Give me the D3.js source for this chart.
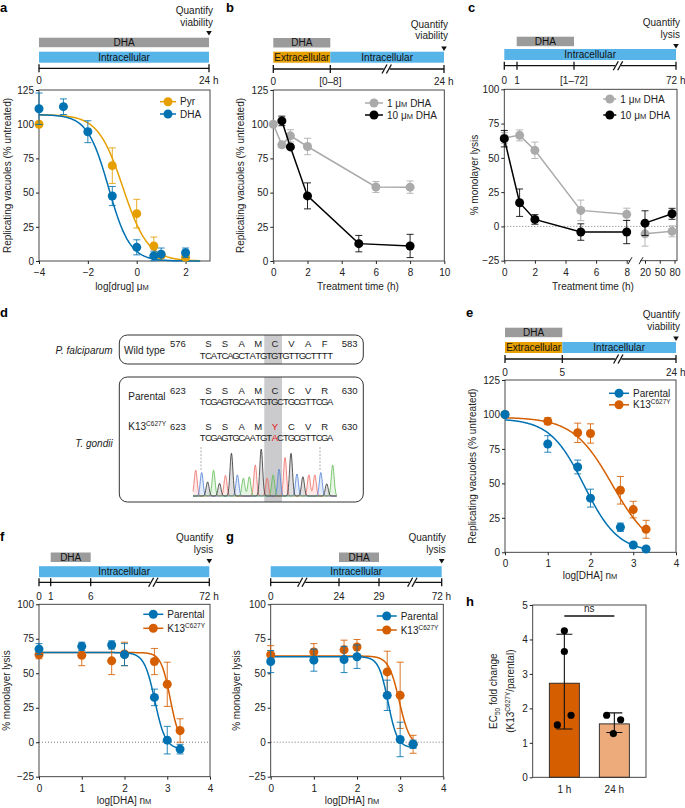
<!DOCTYPE html>
<html>
<head>
<meta charset="utf-8">
<script src="https://cdn.jsdelivr.net/npm/d3@7"></script>
<style>
  body { margin: 0; background: #fff; }
  svg { display: block; }
</style>
</head>
<body>
<svg id="fig" width="685" height="808"></svg>
<script>
// ---------------- data ----------------
// a: dose response, log[drug] uM
const aDoseDHA = [-4, -3, -2, -1, 0, 0.7, 1, 2];
const aDHA     = [111.3, 112.8, 94.5, 47.5, 10, 3.7, 5, 6];
const aDHAerr  = [11.5, 5.7, 8, 7, 5.5, 3.5, 4.5, 3.5];
const aDosePyr = [-4, -1, 0, 0.7, 1, 2];
const aPyr     = [100, 69.7, 34.6, 11, 4.2, 2.7];
const aPyrErr  = [0, 13, 10.5, 6.5, 2, 2];
const aFitDHA  = {top: 107, bottom: 0, ec50: -1.15, hill: 1.0};
const aFitPyr  = {top: 107, bottom: 0, ec50: -0.56, hill: 0.85};

// b: treatment time (h)
const bTime1   = [0, 0.5, 1, 2, 6, 8];
const b1uM     = [100, 84.9, 91.5, 83.7, 54.1, 54];
const b1err    = [0, 2, 4.5, 6, 4, 4.5];
const bTime10  = [0.5, 1, 2, 5, 8];
const b10uM    = [102.4, 83.4, 47.6, 12.7, 11];
const b10err   = [3.5, 1, 9.5, 6, 8.5];

// c: treatment time (h), % lysis
const cTimeA   = [0, 1, 2, 5, 8];
const cTimeB   = [20, 75];
const c1uMA    = [64.6, 66.4, 55.5, 11.7, 8.8];
const c1errA   = [4, 4, 6, 7.5, 4.5];
const c1uMB    = [-5.4, -3.6];
const c1errB   = [9, 4];
const c10uMA   = [64, 17.3, 5.1, -4.1, -4.1];
const c10errA  = [6, 10, 3.5, 6, 8.5];
const c10uMB   = [2.4, 9.2];
const c10errB  = [9, 4];

// d: sequences
const pfAA   = ["S", "S", "A", "M", "C", "V", "A", "F"];
const pfDNA  = "TCATCAGCTATGTGTGTTGCTTTT";
const tgAA   = ["S", "S", "A", "M", "C", "C", "V", "R"];
const tgDNA  = "TCGAGTGCAATGTGCTGCGTTCGA";
const mutAA  = ["S", "S", "A", "M", "Y", "C", "V", "R"];
const mutDNA = "TCGAGTGCAATGTACTGCGTTCGA";
const chromaBases   = "TCGAGTGCAATGTACTGCGTTCGA";
const chromaHeights = [55, 50, 30, 55, 27, 44, 91, 45, 38, 41, 66, 100, 38, 45, 57, 82, 91, 47, 41, 45, 45, 50, 26, 66];

// e: log[DHA] nM
const eDose      = [0, 1, 1.7, 2, 2.7, 3, 3.3];
const eParental  = [100, 78.6, 61.9, 39.3, 18.2, 5.3, 2.4];
const eParErr    = [0, 6, 5, 6.5, 3, 1.5, 1.5];
const eK13       = [100, 95.1, 86.7, 86.2, 45, 31, 16.7];
const eK13Err    = [0, 2.5, 7, 7, 10, 6, 6.5];
const eFitPar    = {top: 97, bottom: 0, ec50: 1.85, hill: 1.09};
const eFitK13    = {top: 98, bottom: 0, ec50: 2.51, hill: 0.95};

// f: 1 h pulse, % lysis
const fDose      = [0, 1, 1.7, 2, 2.7, 3, 3.3];
const fParental  = [67.5, 69.5, 70.5, 63.5, 32.5, 1.5, -5];
const fParErr    = [4, 3, 3, 8, 6, 10, 3.5];
const fK13       = [63.5, 63, 59, 64, 58.5, 42, 8.5];
const fK13Err    = [3, 7.5, 10, 8.5, 9.5, 16, 8.5];
const fFitPar    = {top: 65, bottom: -5, ec50: 2.71, hill: 3.5};
const fFitK13    = {top: 65, bottom: -2, ec50: 3.07, hill: 4};

// g: 24 h post infection pulse
const gDose      = [0, 1, 1.7, 2, 2.7, 3, 3.3];
const gParental  = [58.5, 59.5, 60, 62, 34, 2, -1.5];
const gParErr    = [8, 8, 9.5, 8.5, 11, 12.5, 3];
const gK13       = [63.5, 65.5, 67, 69, 51, 34, -1.5];
const gK13Err    = [6.5, 6, 7, 5.5, 15, 24, 6.5];
const gFitPar    = {top: 62, bottom: -4, ec50: 2.72, hill: 4};
const gFitK13    = {top: 62.5, bottom: -3, ec50: 2.98, hill: 3.5};

// h: EC50 fold change
const hGroups = ["1 h", "24 h"];
const hMeans  = [2.73, 1.55];
const hLow    = [1.4, 1.3];
const hHigh   = [4.15, 1.87];
const hPoints = [[4.25, 3.65, 1.8, 1.52], [1.8, 1.67, 1.27]];

// ---------------- styling ----------------
const FONT = '"Liberation Sans", Arial, Helvetica, sans-serif';
const C = {
  blue: "#0072B2", gold: "#E69F00", red: "#D55E00", sky: "#56B4E9",
  bar: "#9B9B9B", lgray: "#AAAAAA", black: "#000", peach: "#EDAB7C", ink: "#222"
};
const intFmt = d3.format("d");

const svg = d3.select("#fig").attr("font-family", FONT).attr("font-size", 10).attr("fill", C.ink);

function hill(p) {
  return x => p.bottom + (p.top - p.bottom) / (1 + Math.pow(10, (x - p.ec50) * p.hill));
}

// text with sup/sub/small-cap pieces
function rich(sel, parts) {
  let shift = 0;
  parts.forEach(p => {
    const t = sel.append("tspan").text(p.t);
    let want = 0;
    if (p.sup) { t.attr("font-size", 6.5); want = -4; }
    if (p.sub) { t.attr("font-size", 6.5); want = 2.5; }
    if (p.sc) t.attr("font-size", 7.5);
    if (want !== shift) { t.attr("dy", want - shift); shift = want; }
  });
  return sel;
}
const uM = [{t: "μ"}, {t: "M", sc: true}];
const nM = [{t: "n"}, {t: "M", sc: true}];
const k13 = [{t: "K13"}, {t: "C627Y", sup: true}];

function panelLabel(x, y, s) {
  svg.append("text").attr("x", x).attr("y", y).attr("font-size", 13)
    .attr("font-weight", "bold").attr("fill", "#000").text(s);
}

function styleAxis(s) {
  s.attr("font-family", null).attr("font-size", null);
  s.select(".domain").remove();
  s.selectAll("line").attr("stroke", "#222");
  s.selectAll("text").attr("fill", C.ink);
}

function plot(o) {
  const g = svg.append("g");
  const x = d3.scaleLinear().domain(o.xd).range([o.x0, o.x1]);
  const y = d3.scaleLinear().domain(o.yd).range([o.y1, o.y0]);
  if (o.zero) {
    g.append("line").attr("x1", o.x0).attr("x2", o.x1).attr("y1", y(0)).attr("y2", y(0))
      .attr("stroke", "#555").attr("stroke-width", 0.8).attr("stroke-dasharray", "1,2");
  }
  g.append("rect").attr("x", o.x0).attr("y", o.y0).attr("width", o.x1 - o.x0)
    .attr("height", o.y1 - o.y0).attr("fill", "none").attr("stroke", "#333").attr("stroke-width", 0.9);
  g.append("g").attr("transform", `translate(${o.x0},0)`)
    .call(d3.axisLeft(y).tickValues(o.yt).tickFormat(intFmt).tickSize(3).tickPadding(2)).call(styleAxis);
  if (o.xt) {
    g.append("g").attr("transform", `translate(0,${o.y1})`)
      .call(d3.axisBottom(x).tickValues(o.xt).tickFormat(intFmt).tickSize(3).tickPadding(5)).call(styleAxis);
  }
  const yl = g.append("text").attr("transform", `translate(${o.ylx},${(o.y0 + o.y1) / 2}) rotate(-90)`)
    .attr("text-anchor", "middle");
  rich(yl, o.ylabel);
  if (o.xlabel) {
    const xl = g.append("text").attr("x", o.xlx).attr("y", o.xly).attr("text-anchor", "middle");
    rich(xl, o.xlabel);
  }
  return {g, x, y};
}

function drawSeries(p, xs, ys, errs, color, connect, xScale) {
  const xs_ = xScale || p.x;
  const g = p.g.append("g");
  if (connect) {
    g.append("path").datum(xs.map((d, i) => [d, ys[i]]))
      .attr("d", d3.line().x(d => xs_(d[0])).y(d => p.y(d[1])))
      .attr("fill", "none").attr("stroke", color).attr("stroke-width", 1.5);
  }
  xs.forEach((d, i) => {
    if (!errs[i]) return;
    const cx = xs_(d), ya = p.y(ys[i] - errs[i]), yb = p.y(ys[i] + errs[i]);
    g.append("path")
      .attr("d", `M${cx},${ya}V${yb}M${cx - 3.5},${ya}H${cx + 3.5}M${cx - 3.5},${yb}H${cx + 3.5}`)
      .attr("stroke", color).attr("stroke-width", 1).attr("fill", "none").attr("opacity", 0.85);
  });
  g.selectAll("circle").data(xs).join("circle")
    .attr("cx", d => xs_(d)).attr("cy", (d, i) => p.y(ys[i])).attr("r", 4.5).attr("fill", color);
}

function drawFit(p, f, x0, x1, color) {
  const xs = d3.range(0, 201).map(i => x0 + (x1 - x0) * i / 200);
  p.g.append("path").datum(xs)
    .attr("d", d3.line().x(d => p.x(d)).y(d => p.y(hill(f)(d))))
    .attr("fill", "none").attr("stroke", color).attr("stroke-width", 1.5);
}

function legend(g, x, ys, items, len) {
  items.forEach((it, i) => {
    const y = ys[i];
    g.append("line").attr("x1", x).attr("x2", x + len).attr("y1", y).attr("y2", y)
      .attr("stroke", it.color).attr("stroke-width", 1.5);
    g.append("circle").attr("cx", x + len / 2).attr("cy", y).attr("r", 4.5).attr("fill", it.color);
    const t = g.append("text").attr("x", x + len + 4).attr("y", y).attr("dy", "0.35em");
    rich(t, it.label);
  });
}

function timeline(t) {
  const g = svg.append("g");
  t.bars.forEach(b => {
    g.append("rect").attr("x", b.x0).attr("y", b.y).attr("width", b.x1 - b.x0)
      .attr("height", b.h).attr("fill", b.fill);
    g.append("text").attr("x", (b.x0 + b.x1) / 2).attr("y", b.y + b.h / 2).attr("dy", "0.36em")
      .attr("text-anchor", "middle").attr("fill", "#111").text(b.text);
  });
  const x0 = d3.min(t.ticks), x1 = d3.max(t.ticks);
  g.append("line").attr("x1", x0).attr("x2", x1).attr("y1", t.lineY).attr("y2", t.lineY)
    .attr("stroke", "#111").attr("stroke-width", 1.3);
  t.ticks.forEach((tx, i) => {
    g.append("line").attr("x1", tx).attr("x2", tx).attr("y1", t.lineY - 4).attr("y2", t.lineY + 4)
      .attr("stroke", "#111").attr("stroke-width", 1.3);
    const last = i === t.ticks.length - 1;
    g.append("text").attr("x", last ? tx - 10 : tx).attr("y", t.labelY)
      .attr("text-anchor", last ? "start" : "middle").text(t.labels[i]);
  });
  (t.breaks || []).forEach(bx => {
    g.append("rect").attr("x", bx - 3).attr("y", t.lineY - 2).attr("width", 6).attr("height", 4).attr("fill", "#fff");
    [-2.2, 2.2].forEach(o => {
      g.append("line").attr("x1", bx + o - 2.5).attr("y1", t.lineY + 4.5)
        .attr("x2", bx + o + 2.5).attr("y2", t.lineY - 4.5).attr("stroke", "#111").attr("stroke-width", 1.3);
    });
  });
  t.quantify.forEach((s, i) => {
    g.append("text").attr("x", x1 + 4).attr("y", t.qY[i]).attr("text-anchor", "end").text(s);
  });
  g.append("path").attr("d", `M${x1 - 2.8},${t.arrowY}L${x1 + 2.8},${t.arrowY}L${x1},${t.arrowY + 4.5}Z`)
    .attr("fill", "#111");
}

// ---------------- panel a ----------------
panelLabel(0, 12, "a");
timeline({
  ticks: [39, 209], labels: ["0", "24 h"], lineY: 68.3, labelY: 84,
  bars: [{x0: 39, x1: 209, y: 37.7, h: 9.5, fill: C.bar, text: "DHA"},
         {x0: 39, x1: 209, y: 51.7, h: 11, fill: C.sky, text: "Intracellular"}],
  quantify: ["Quantify", "viability"], qY: [14, 25.5], arrowY: 31
});
const pa = plot({x0: 39, x1: 210, y0: 90, y1: 261, xd: [-4, 3], yd: [0, 125],
  xt: [-4, -2, 0, 2], yt: [0, 25, 50, 75, 100, 125],
  ylabel: [{t: "Replicating vacuoles (% untreated)"}], ylx: 10.5,
  xlabel: [{t: "log[drug] "}, ...uM], xlx: 122, xly: 290});
drawFit(pa, aFitPyr, -4, 2.6, C.gold);
drawFit(pa, aFitDHA, -4, 2.6, C.blue);
drawSeries(pa, aDosePyr, aPyr, aPyrErr, C.gold, false);
drawSeries(pa, aDoseDHA, aDHA, aDHAerr, C.blue, false);
legend(pa.g, 160, [101.7, 114], [{label: [{t: "Pyr"}], color: C.gold}, {label: [{t: "DHA"}], color: C.blue}], 16);

// ---------------- panel b ----------------
panelLabel(226, 12, "b");
timeline({
  ticks: [273.3, 330.3, 444], labels: ["0", "[0–8]", "24 h"], lineY: 69, labelY: 85,
  bars: [{x0: 273.3, x1: 330.3, y: 38, h: 9.5, fill: C.bar, text: "DHA"},
         {x0: 273.3, x1: 330.3, y: 51.7, h: 11, fill: C.gold, text: "Extracellular"},
         {x0: 330.3, x1: 444, y: 51.7, h: 11, fill: C.sky, text: "Intracellular"}],
  breaks: [386.7], quantify: ["Quantify", "viability"], qY: [28, 39], arrowY: 46.5
});
const pb = plot({x0: 273.3, x1: 444.3, y0: 90, y1: 261, xd: [0, 10], yd: [0, 125],
  xt: [0, 2, 4, 6, 8, 10], yt: [0, 25, 50, 75, 100, 125],
  ylabel: [{t: "Replicating vacuoles (% untreated)"}], ylx: 244,
  xlabel: [{t: "Treatment time (h)"}], xlx: 358, xly: 290});
drawSeries(pb, bTime1, b1uM, b1err, C.lgray, true);
drawSeries(pb, bTime10, b10uM, b10err, C.black, true);
legend(pb.g, 365, [103, 115], [{label: [{t: "1 "}, ...uM, {t: " DHA"}], color: C.lgray},
  {label: [{t: "10 "}, ...uM, {t: " DHA"}], color: C.black}], 18);

// ---------------- panel c ----------------
panelLabel(468, 12, "c");
timeline({
  ticks: [504.3, 517, 574, 676], labels: ["0", "1", "[1–72]", "72 h"], lineY: 65.7, labelY: 83.5,
  bars: [{x0: 516.7, x1: 574, y: 36.7, h: 9.5, fill: C.bar, text: "DHA"},
         {x0: 504.3, x1: 676, y: 49, h: 11, fill: C.sky, text: "Intracellular"}],
  breaks: [618], quantify: ["Quantify", "lysis"], qY: [26, 37.5], arrowY: 44
});
const pc = plot({x0: 504.3, x1: 677, y0: 89.3, y1: 260.7, xd: [0, 8], yd: [-25, 100],
  yt: [-25, 0, 25, 50, 75, 100], zero: true,
  ylabel: [{t: "% monolayer lysis"}], ylx: 478,
  xlabel: [{t: "Treatment time (h)"}], xlx: 593, xly: 290});
{
  const xA = d3.scaleLinear().domain([0, 8]).range([504.3, 626.7]);
  const xB = d3.scaleLinear().domain([20, 80]).range([645, 674.5]);
  const yb = 260.7;
  // open the box bottom in the axis gap
  pc.g.append("line").attr("x1", 630).attr("x2", 640).attr("y1", yb).attr("y2", yb)
    .attr("stroke", "#fff").attr("stroke-width", 2);
  pc.g.append("g").attr("transform", `translate(0,${yb})`)
    .call(d3.axisBottom(xA).tickValues([0, 2, 4, 6, 8]).tickFormat(intFmt).tickSize(3).tickPadding(5)).call(styleAxis);
  pc.g.append("g").attr("transform", `translate(0,${yb})`)
    .call(d3.axisBottom(xB).tickValues([20, 50, 80]).tickFormat(intFmt).tickSize(3).tickPadding(5)).call(styleAxis);
  [630, 641].forEach(bx => {
    pc.g.append("line").attr("x1", bx - 2).attr("y1", yb + 3.5).attr("x2", bx + 2).attr("y2", yb - 3.5)
      .attr("stroke", "#222").attr("stroke-width", 1);
  });
  drawSeries(pc, cTimeA, c1uMA, c1errA, C.lgray, true, xA);
  drawSeries(pc, cTimeB, c1uMB, c1errB, C.lgray, true, xB);
  drawSeries(pc, cTimeA, c10uMA, c10errA, C.black, true, xA);
  drawSeries(pc, cTimeB, c10uMB, c10errB, C.black, true, xB);
}
legend(pc.g, 603.3, [99, 115], [{label: [{t: "1 "}, ...uM, {t: " DHA"}], color: C.lgray},
  {label: [{t: "10 "}, ...uM, {t: " DHA"}], color: C.black}], 13);

// ---------------- panel d ----------------
panelLabel(0, 317, "d");
{
  const g = svg.append("g").attr("font-size", 9.5);
  const sx = d3.scaleLinear().domain([0, 24]).range([200, 333]);
  const aaX = i => sx(3 * i + 1.5);
  const hx0 = sx(11.6), hx1 = sx(14.8);
  g.append("rect").attr("x", hx0).attr("y", 335).attr("width", hx1 - hx0).attr("height", 29).attr("fill", "#CBCBCD");
  g.append("rect").attr("x", hx0).attr("y", 377).attr("width", hx1 - hx0).attr("height", 125).attr("fill", "#CBCBCD");
  g.append("rect").attr("x", 119.3).attr("y", 335).attr("width", 244).attr("height", 29).attr("rx", 8)
    .attr("fill", "none").attr("stroke", "#333").attr("stroke-width", 1);
  g.append("rect").attr("x", 119.3).attr("y", 377).attr("width", 244).attr("height", 125).attr("rx", 8)
    .attr("fill", "none").attr("stroke", "#333").attr("stroke-width", 1);

  g.append("text").attr("x", 112.7).attr("y", 354).attr("text-anchor", "end").attr("font-size", 10)
    .attr("font-style", "italic").text("P. falciparum");
  g.append("text").attr("x", 112.7).attr("y", 447).attr("text-anchor", "end").attr("font-size", 10)
    .attr("font-style", "italic").text("T. gondii");
  g.append("text").attr("x", 124).attr("y", 354).attr("font-size", 10).text("Wild type");
  g.append("text").attr("x", 128.3).attr("y", 400).attr("font-size", 10).text("Parental");
  rich(g.append("text").attr("x", 128.3).attr("y", 430).attr("font-size", 10), k13);

  const rows = [
    {aa: pfAA, dna: pfDNA, start: "576", end: "583", yA: 347, yD: 358.5, red: -1},
    {aa: tgAA, dna: tgDNA, start: "623", end: "630", yA: 393.5, yD: 405, red: -1},
    {aa: mutAA, dna: mutDNA, start: "623", end: "630", yA: 429.5, yD: 441, red: 4}
  ];
  rows.forEach(r => {
    g.append("text").attr("x", 170).attr("y", r.yA).text(r.start);
    g.append("text").attr("x", 357.5).attr("y", r.yA).attr("text-anchor", "end").text(r.end);
    g.selectAll(null).data(r.aa).join("text")
      .attr("x", (d, i) => aaX(i)).attr("y", r.yA).attr("text-anchor", "middle")
      .attr("fill", (d, i) => i === r.red ? "#E8141B" : C.ink).text(d => d);
    g.selectAll(null).data(r.dna.split("")).join("text")
      .attr("x", (d, i) => sx(i + 0.5)).attr("y", r.yD).attr("text-anchor", "middle")
      .attr("fill", (d, i) => (r.red >= 0 && r.dna[i] !== tgDNA[i]) ? "#E8141B" : C.ink).text(d => d);
  });

  // chromatogram
  const cx = d3.scaleLinear().domain([0, 23]).range([195.7, 332.7]);
  const cy = d3.scaleLinear().domain([0, 100]).range([496, 449]);
  const baseColor = {T: "#EE6B63", C: "#4F7FD6", G: "#2E2E2E", A: "#5DBB4F"};
  [201, 320].forEach(lx => {
    g.append("line").attr("x1", lx).attr("x2", lx).attr("y1", 447).attr("y2", 470)
      .attr("stroke", "#999").attr("stroke-width", 0.8).attr("stroke-dasharray", "2,1.5");
  });
  ["T", "C", "A", "G"].forEach(b => {
    const idx = chromaBases.split("").map((c, i) => c === b ? i : -1).filter(i => i >= 0);
    const pts = d3.range(0, 480).map(k => {
      const px = 193 + k * 0.3;
      let v = 0;
      idx.forEach(i => { const dx = px - cx(i); v += chromaHeights[i] * Math.exp(-dx * dx / (2 * 1.45 * 1.45)); });
      return [px, v];
    });
    g.append("path").datum(pts).attr("d", d3.area().x(d => d[0]).y0(cy(0)).y1(d => cy(d[1])))
      .attr("fill", baseColor[b]).attr("opacity", 0.15);
    g.append("path").datum(pts).attr("d", d3.line().x(d => d[0]).y(d => cy(d[1])))
      .attr("fill", "none").attr("stroke", baseColor[b]).attr("stroke-width", 0.8);
  });
}

// ---------------- panel e ----------------
panelLabel(466, 317, "e");
timeline({
  ticks: [505, 562.3, 676], labels: ["0", "5", "24 h"], lineY: 359, labelY: 375.5,
  bars: [{x0: 505, x1: 562.3, y: 327.7, h: 9.5, fill: C.bar, text: "DHA"},
         {x0: 505, x1: 562.3, y: 342, h: 11, fill: C.gold, text: "Extracellular"},
         {x0: 562.3, x1: 676, y: 342, h: 11, fill: C.sky, text: "Intracellular"}],
  breaks: [618.3], quantify: ["Quantify", "viability"], qY: [318, 330], arrowY: 336.5
});
const pe = plot({x0: 505, x1: 676, y0: 380, y1: 552.3, xd: [0, 4], yd: [0, 125],
  xt: [0, 1, 2, 3, 4], yt: [0, 25, 50, 75, 100, 125],
  ylabel: [{t: "Replicating vacuoles (% untreated)"}], ylx: 476,
  xlabel: [{t: "log[DHA] "}, ...nM], xlx: 590, xly: 578.5});
drawFit(pe, eFitK13, 0, 3.3, C.red);
drawFit(pe, eFitPar, 0, 3.3, C.blue);
drawSeries(pe, eDose, eK13, eK13Err, C.red, false);
drawSeries(pe, eDose, eParental, eParErr, C.blue, false);
legend(pe.g, 609, [393.3, 404.8], [{label: [{t: "Parental"}], color: C.blue}, {label: k13, color: C.red}], 20);

// ---------------- panel f ----------------
panelLabel(0, 541, "f");
timeline({
  ticks: [39, 50.7, 90.7, 209.3], labels: ["0", "1", "6", "72 h"], lineY: 582.3, labelY: 600,
  bars: [{x0: 50.7, x1: 90.7, y: 552.5, h: 9.5, fill: C.bar, text: "DHA"},
         {x0: 39, x1: 209.3, y: 566.2, h: 11, fill: C.sky, text: "Intracellular"}],
  breaks: [153.3], quantify: ["Quantify", "lysis"], qY: [541, 552.5], arrowY: 559
});
const pf = plot({x0: 39, x1: 210, y0: 604.3, y1: 776.7, xd: [0, 4], yd: [-25, 100],
  xt: [0, 1, 2, 3, 4], yt: [-25, 0, 25, 50, 75, 100], zero: true,
  ylabel: [{t: "% monolayer lysis"}], ylx: 10,
  xlabel: [{t: "log[DHA] "}, ...nM], xlx: 124, xly: 804});
drawFit(pf, fFitK13, 0, 3.3, C.red);
drawFit(pf, fFitPar, 0, 3.3, C.blue);
drawSeries(pf, fDose, fK13, fK13Err, C.red, false);
drawSeries(pf, fDose, fParental, fParErr, C.blue, false);
legend(pf.g, 143.3, [614.3, 628.3], [{label: [{t: "Parental"}], color: C.blue}, {label: k13, color: C.red}], 20);

// ---------------- panel g ----------------
panelLabel(226, 541, "g");
timeline({
  ticks: [270.7, 339, 379, 441.7], labels: ["0", "24", "29", "72 h"], lineY: 582.3, labelY: 600,
  bars: [{x0: 339, x1: 379, y: 552.5, h: 9.5, fill: C.bar, text: "DHA"},
         {x0: 270.7, x1: 441.7, y: 566.2, h: 11, fill: C.sky, text: "Intracellular"}],
  breaks: [302.3, 412.3], quantify: ["Quantify", "lysis"], qY: [541, 552.5], arrowY: 559
});
const pg = plot({x0: 270.7, x1: 443.3, y0: 604.3, y1: 776.7, xd: [0, 4], yd: [-25, 100],
  xt: [0, 1, 2, 3, 4], yt: [-25, 0, 25, 50, 75, 100], zero: true,
  ylabel: [{t: "% monolayer lysis"}], ylx: 240,
  xlabel: [{t: "log[DHA] "}, ...nM], xlx: 352, xly: 804});
drawFit(pg, gFitK13, 0, 3.3, C.red);
drawFit(pg, gFitPar, 0, 3.3, C.blue);
drawSeries(pg, gDose, gK13, gK13Err, C.red, false);
drawSeries(pg, gDose, gParental, gParErr, C.blue, false);
legend(pg.g, 376.7, [616, 630], [{label: [{t: "Parental"}], color: C.blue}, {label: k13, color: C.red}], 20);

// ---------------- panel h ----------------
panelLabel(466, 606, "h");
{
  const x0 = 532.7, x1 = 646, y0 = 605, y1 = 777.3;
  const g = svg.append("g");
  const x = d3.scaleBand().domain(hGroups).range([x0, x1]).paddingInner(0.4).paddingOuter(0.333);
  const y = d3.scaleLinear().domain([0, 5]).range([y1, y0]);
  const fills = [C.red, C.peach];
  g.selectAll("rect.bar").data(hMeans).join("rect").attr("class", "bar")
    .attr("x", (d, i) => x(hGroups[i])).attr("y", d => y(d))
    .attr("width", x.bandwidth()).attr("height", d => y1 - y(d))
    .attr("fill", (d, i) => fills[i]).attr("stroke", "#222").attr("stroke-width", 0.9);
  hGroups.forEach((grp, i) => {
    const cx = x(grp) + x.bandwidth() / 2, ya = y(hLow[i]), yb = y(hHigh[i]);
    g.append("path").attr("d", `M${cx},${ya}V${yb}M${cx - 8},${ya}H${cx + 8}M${cx - 8},${yb}H${cx + 8}`)
      .attr("stroke", "#111").attr("stroke-width", 1.1).attr("fill", "none");
  });
  const jitter = [[0, 0, 6.7, -7], [-7.7, 6.3, -1]];
  hPoints.forEach((pts, i) => {
    const cx = x(hGroups[i]) + x.bandwidth() / 2;
    g.selectAll(null).data(pts).join("circle")
      .attr("cx", (d, k) => cx + jitter[i][k]).attr("cy", d => y(d)).attr("r", 3.6).attr("fill", "#000");
  });
  g.append("rect").attr("x", x0).attr("y", y0).attr("width", x1 - x0).attr("height", y1 - y0)
    .attr("fill", "none").attr("stroke", "#333").attr("stroke-width", 0.9);
  g.append("g").attr("transform", `translate(${x0},0)`)
    .call(d3.axisLeft(y).tickValues([0, 1, 2, 3, 4, 5]).tickFormat(intFmt).tickSize(3).tickPadding(2)).call(styleAxis);
  g.append("g").attr("transform", `translate(0,${y1})`)
    .call(d3.axisBottom(x).tickSize(0).tickPadding(9)).call(styleAxis);
  // ns bracket
  const c1 = x(hGroups[0]) + x.bandwidth() / 2, c2 = x(hGroups[1]) + x.bandwidth() / 2;
  g.append("line").attr("x1", c1).attr("x2", c2).attr("y1", 616).attr("y2", 616)
    .attr("stroke", "#111").attr("stroke-width", 1.3);
  g.append("text").attr("x", (c1 + c2) / 2).attr("y", 612).attr("text-anchor", "middle").text("ns");
  const yc = (y0 + y1) / 2;
  rich(g.append("text").attr("transform", `translate(497,${yc}) rotate(-90)`).attr("text-anchor", "middle"),
    [{t: "EC"}, {t: "50", sub: true}, {t: " fold change"}]);
  rich(g.append("text").attr("transform", `translate(513.5,${yc}) rotate(-90)`).attr("text-anchor", "middle"),
    [{t: "("}, ...k13, {t: "/parental)"}]);
}
</script>
</body>
</html>
